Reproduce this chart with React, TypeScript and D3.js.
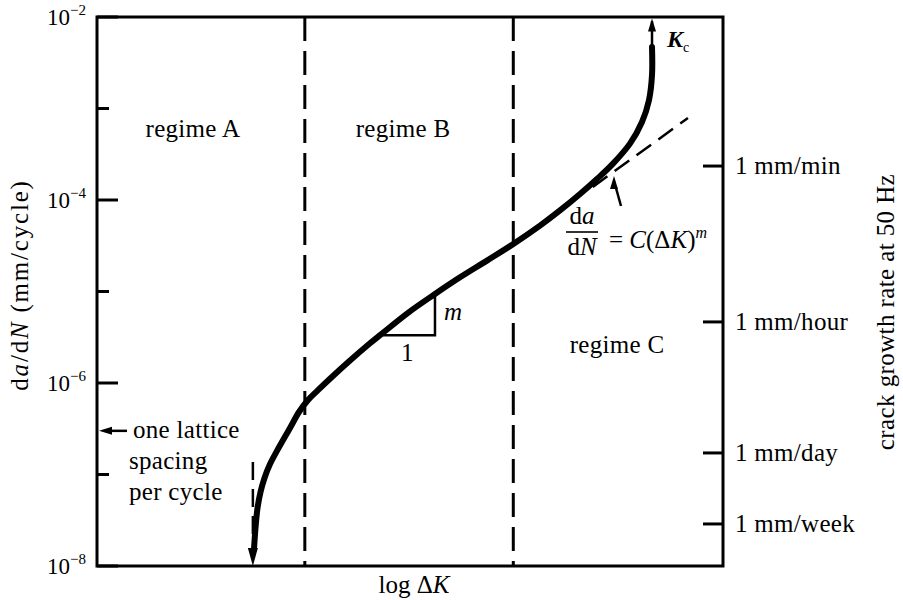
import React, { useEffect, useRef } from "react";
import * as d3 from "d3";

const W = 903;
const H = 600;

// left axis: decades of da/dN (mm/cycle)
const decadeExps = [-2, -3, -4, -5, -6, -7, -8];
const labelExps = [-2, -4, -6, -8];

// right axis: crack growth rate at 50 Hz, at the mm/cycle values
const rateLabels = ["1 mm/min", "1 mm/hour", "1 mm/day", "1 mm/week"];
const rateValues = [2.35e-4, 4.65e-6, 1.72e-7, 2.88e-8];

// log ΔK in arbitrary units (0..10 across the frame)
const regimeBounds = [3.32, 6.65];
const thresholdK = 2.49;
const criticalK = 8.866;

// main crack growth curve
const curveK = [
  2.508, 2.532, 2.564, 2.612, 2.676, 2.764, 2.875, 3.083, 3.227, 3.371, 3.53, 3.722, 4.042, 4.361,
  4.521, 4.968, 5.399, 5.799, 6.23, 6.645, 7.077, 7.396, 7.716, 7.987, 8.243, 8.514, 8.706, 8.818,
  8.866, 8.866,
];
const curveRate = [
  1.534e-8, 2.6e-8, 4.3e-8, 6.44e-8, 9.16e-8, 1.3e-7, 1.81e-7, 3.22e-7, 4.82e-7, 6.52e-7, 8.36e-7,
  1.114e-6, 1.761e-6, 2.716e-6, 3.33e-6, 5.85e-6, 9.39e-6, 1.429e-5, 2.176e-5, 3.287e-5, 5.25e-5,
  7.69e-5, 1.163e-4, 1.696e-4, 2.498e-4, 4.13e-4, 7.12e-4, 1.238e-3, 2.323e-3, 4.7e-3,
];

// Paris law extrapolation (dashed)
const parisK = [7.92, 9.44];
const parisRate = [1.39e-4, 7.87e-4];

// slope triangle
const slopeK = [4.521, 5.399];
const slopeRate = [3.33e-6, 9.39e-6];

const latticeRate = 3.0e-7;

const FONT = "'Liberation Serif', 'DejaVu Serif', serif";
const FS = 25;

const App = () => {
  const ref = useRef<SVGSVGElement | null>(null);

  useEffect(() => {
    if (!ref.current) return;
    const svg = d3.select(ref.current);
    svg.selectAll("*").remove();

    const x = d3.scaleLinear().domain([0, 10]).range([97, 723]);
    const y = d3.scaleLog().domain([1e-8, 1e-2]).range([566, 17]);
    const [x0, x1] = x.range();
    const [yb, yt] = y.range();

    const txt = (px: number, py: number, s: string, size = FS, anchor = "start") =>
      svg
        .append("text")
        .attr("x", px)
        .attr("y", py)
        .attr("text-anchor", anchor)
        .style("font-family", FONT)
        .style("font-size", `${size}px`)
        .style("letter-spacing", "0.3px")
        .attr("fill", "#000")
        .text(s);

    const arrowHead = (tx: number, ty: number, dir: "up" | "down" | "left", len = 15, half = 4.5) => {
      let pts: [number, number][];
      if (dir === "up") pts = [[tx, ty], [tx - half, ty + len], [tx + half, ty + len]];
      else if (dir === "down") pts = [[tx, ty], [tx - half, ty - len], [tx + half, ty - len]];
      else pts = [[tx, ty], [tx + len, ty - half], [tx + len, ty + half]];
      svg.append("polygon").attr("points", pts.map((p) => p.join(",")).join(" ")).attr("fill", "#000");
    };

    // regime boundaries
    regimeBounds.forEach((k) => {
      svg
        .append("line")
        .attr("x1", x(k)).attr("x2", x(k))
        .attr("y1", yt).attr("y2", yb)
        .attr("stroke", "#000").attr("stroke-width", 3)
        .attr("stroke-dasharray", "24,10");
    });

    // threshold asymptote
    svg
      .append("line")
      .attr("x1", x(thresholdK)).attr("x2", x(thresholdK))
      .attr("y1", y(1.37e-7)).attr("y2", y(2.2e-8))
      .attr("stroke", "#000").attr("stroke-width", 2.5)
      .attr("stroke-dasharray", "18,9");

    // Kc asymptote
    svg
      .append("line")
      .attr("x1", x(criticalK)).attr("x2", x(criticalK))
      .attr("y1", y(4.4e-3)).attr("y2", y(1.4e-3))
      .attr("stroke", "#000").attr("stroke-width", 2.5)
      .attr("stroke-dasharray", "16,8");

    // Paris law line
    svg
      .append("line")
      .attr("x1", x(parisK[0])).attr("y1", y(parisRate[0]))
      .attr("x2", x(parisK[1])).attr("y2", y(parisRate[1]))
      .attr("stroke", "#000").attr("stroke-width", 2.5)
      .attr("stroke-dasharray", "18,9");

    // frame
    svg
      .append("rect")
      .attr("x", x0).attr("y", yt)
      .attr("width", x1 - x0).attr("height", yb - yt)
      .attr("fill", "none").attr("stroke", "#000").attr("stroke-width", 3);

    // left ticks
    decadeExps.forEach((e) => {
      const len = labelExps.includes(e) ? 21 : 12;
      svg
        .append("line")
        .attr("x1", x0).attr("x2", x0 + len)
        .attr("y1", y(10 ** e)).attr("y2", y(10 ** e))
        .attr("stroke", "#000").attr("stroke-width", 3);
    });
    labelExps.forEach((e) => {
      const t = svg
        .append("text")
        .attr("x", 86)
        .attr("y", y(10 ** e) + 8)
        .attr("text-anchor", "end")
        .style("font-family", FONT)
        .style("font-size", "23px");
      t.append("tspan").text("10");
      t.append("tspan").attr("dy", -10).style("font-size", "15px").text(`\u2212${-e}`);
    });

    // right ticks
    rateValues.forEach((v, i) => {
      svg
        .append("line")
        .attr("x1", x1 - 20).attr("x2", x1)
        .attr("y1", y(v)).attr("y2", y(v))
        .attr("stroke", "#000").attr("stroke-width", 3);
      txt(x1 + 12, y(v) + 8, rateLabels[i]);
    });

    // main curve
    const pts = curveK.map((k, i) => [x(k), y(curveRate[i])] as [number, number]);
    const line = d3.line().curve(d3.curveCatmullRom.alpha(0.5));
    svg
      .append("path")
      .attr("d", line(pts))
      .attr("fill", "none").attr("stroke", "#000")
      .attr("stroke-width", 6).attr("stroke-linecap", "round");
    arrowHead(x(thresholdK), y(1e-8), "down", 18, 5);

    // Kc arrow
    svg
      .append("line")
      .attr("x1", x(criticalK)).attr("x2", x(criticalK))
      .attr("y1", y(curveRate[curveRate.length - 1])).attr("y2", y(9.0e-3))
      .attr("stroke", "#000").attr("stroke-width", 2.5);
    arrowHead(x(criticalK), y(9.6e-3), "up", 13, 4);
    const kc = svg
      .append("text")
      .attr("x", x(criticalK) + 15)
      .attr("y", 47)
      .style("font-family", FONT)
      .style("font-size", "24px");
    kc.append("tspan").style("font-style", "italic").style("font-weight", "bold").text("K");
    kc.append("tspan").attr("dy", 5).style("font-size", "14px").text("c");

    // slope triangle
    svg
      .append("path")
      .attr("d", `M${x(slopeK[0])},${y(slopeRate[0])}H${x(slopeK[1])}V${y(slopeRate[1])}`)
      .attr("fill", "none").attr("stroke", "#000").attr("stroke-width", 2.5);
    txt((x(slopeK[0]) + x(slopeK[1])) / 2, y(slopeRate[0]) + 26, "1", FS, "middle");
    txt(x(slopeK[1]) + 9, (y(slopeRate[0]) + y(slopeRate[1])) / 2 + 5, "m", FS).style("font-style", "italic");

    // regime labels
    txt((x0 + x(regimeBounds[0])) / 2 - 8, 137, "regime A", FS, "middle");
    txt((x(regimeBounds[0]) + x(regimeBounds[1])) / 2 - 6, 137, "regime B", FS, "middle");
    txt(617, 353, "regime C", FS, "middle");

    // formula pointer
    svg
      .append("line")
      .attr("x1", 621).attr("y1", 206)
      .attr("x2", 616).attr("y2", 188)
      .attr("stroke", "#000").attr("stroke-width", 2.5);
    arrowHead(614, 176, "up", 13, 4);

    // formula da/dN = C(ΔK)^m
    const fr = svg.append("g").style("font-family", FONT).style("font-size", `${FS}px`);
    const num = fr.append("text").attr("x", 582).attr("y", 224).attr("text-anchor", "middle");
    num.append("tspan").text("d");
    num.append("tspan").style("font-style", "italic").text("a");
    fr.append("line").attr("x1", 566).attr("x2", 598).attr("y1", 232).attr("y2", 232)
      .attr("stroke", "#000").attr("stroke-width", 1.6);
    const den = fr.append("text").attr("x", 582).attr("y", 255).attr("text-anchor", "middle");
    den.append("tspan").text("d");
    den.append("tspan").style("font-style", "italic").text("N");
    const rhs = fr.append("text").attr("x", 609).attr("y", 248);
    rhs.append("tspan").text("= ");
    rhs.append("tspan").style("font-style", "italic").text("C");
    rhs.append("tspan").text("(\u0394");
    rhs.append("tspan").style("font-style", "italic").text("K");
    rhs.append("tspan").text(")");
    rhs.append("tspan").attr("dy", -10).style("font-size", "16px").style("font-style", "italic").text("m");

    // lattice spacing annotation
    svg
      .append("line")
      .attr("x1", x0 + 14).attr("x2", x0 + 30)
      .attr("y1", y(latticeRate)).attr("y2", y(latticeRate))
      .attr("stroke", "#000").attr("stroke-width", 2.5);
    arrowHead(x0 + 2, y(latticeRate), "left", 13, 4);
    txt(133, y(latticeRate) + 7, "one lattice");
    txt(129, y(latticeRate) + 38, "spacing");
    txt(129, y(latticeRate) + 69, "per cycle");

    // axis titles
    const lt = svg
      .append("text")
      .attr("transform", `translate(28,285) rotate(-90)`)
      .attr("text-anchor", "middle")
      .style("font-family", FONT)
      .style("font-size", `${FS}px`)
      .style("letter-spacing", "1.8px");
    lt.append("tspan").text("d");
    lt.append("tspan").style("font-style", "italic").text("a");
    lt.append("tspan").text("/d");
    lt.append("tspan").style("font-style", "italic").text("N");
    lt.append("tspan").text(" (mm/cycle)");

    svg
      .append("text")
      .attr("transform", `translate(894,312) rotate(-90)`)
      .attr("text-anchor", "middle")
      .style("font-family", FONT)
      .style("font-size", `${FS}px`)
      .style("letter-spacing", "0.4px")
      .text("crack growth rate at 50 Hz");

    const bt = svg
      .append("text")
      .attr("x", 414)
      .attr("y", 593)
      .attr("text-anchor", "middle")
      .style("font-family", FONT)
      .style("font-size", `${FS}px`);
    bt.append("tspan").text("log \u0394");
    bt.append("tspan").style("font-style", "italic").text("K");
  }, []);

  return (
    <div style={{ position: "fixed", left: 0, top: 0, width: W, height: H, background: "#fff" }}>
      <svg ref={ref} width={W} height={H} />
    </div>
  );
};

export default App;
